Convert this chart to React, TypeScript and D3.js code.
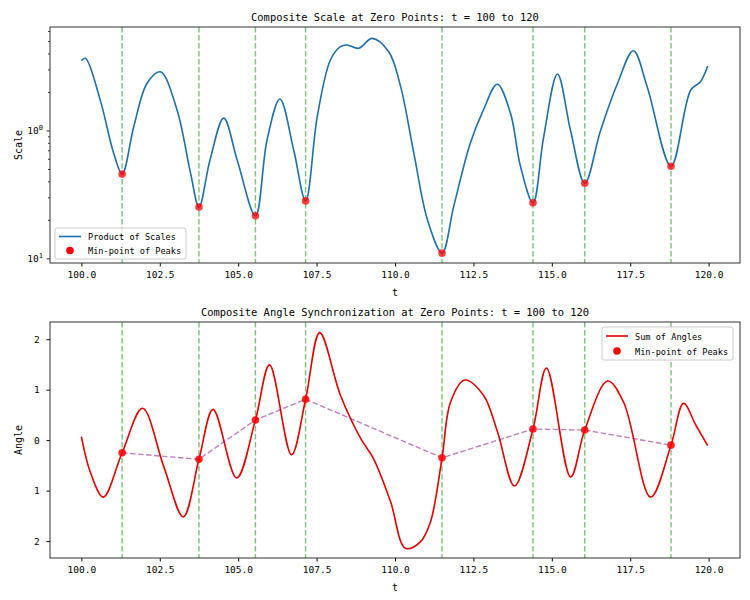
import { useEffect, useRef } from 'react';
import * as d3 from 'd3';

// zero points (t) where the green guide lines are drawn
const zeroPoints = [101.3, 103.75, 105.55, 107.15, 111.5, 114.4, 116.05, 118.8];

// top panel: product of scales (log axis)
const scaleT = [100.0, 100.13, 100.6, 101.03, 101.3, 101.67, 102.1, 102.52, 103.05, 103.48, 103.75, 104.1, 104.54, 104.97, 105.55, 105.92, 106.33, 106.77, 107.15, 107.52, 107.94, 108.26, 108.47, 108.84, 109.27, 109.8, 110.18, 110.6, 111.04, 111.5, 111.87, 112.4, 112.82, 113.26, 113.68, 114.0, 114.4, 114.74, 115.18, 115.6, 116.05, 116.55, 117.1, 117.6, 118.04, 118.8, 119.43, 119.74, 119.97];
const scaleV = [3.55, 3.7, 1.75, 0.67, 0.46, 1.08, 2.37, 2.9, 1.46, 0.47, 0.254, 0.59, 1.26, 0.59, 0.217, 0.85, 1.78, 0.71, 0.284, 1.29, 3.59, 4.56, 4.7, 4.43, 5.3, 4.16, 2.22, 0.67, 0.2, 0.111, 0.256, 0.8, 1.46, 2.32, 1.38, 0.53, 0.274, 0.9, 2.79, 1.0, 0.39, 1.0, 2.37, 4.24, 2.22, 0.53, 2.09, 2.43, 3.22];
const scaleMins = [0.46, 0.254, 0.217, 0.284, 0.111, 0.274, 0.39, 0.53];

// bottom panel: sum of angles
const angleT = [100.0, 100.3, 100.7, 101.3, 101.95, 102.63, 103.25, 103.75, 104.2, 104.95, 105.55, 106.0, 106.7, 107.15, 107.6, 108.26, 108.9, 109.31, 109.86, 110.33, 110.8, 111.13, 111.5, 111.77, 112.22, 112.82, 113.27, 113.81, 114.4, 114.83, 115.6, 116.05, 116.78, 117.29, 118.15, 118.8, 119.2, 119.59, 119.97];
const angleV = [0.07, -0.66, -1.13, -0.25, 0.63, -0.53, -1.52, -0.38, 0.61, -0.75, 0.4, 1.49, -0.29, 0.81, 2.13, 0.89, 0.04, -0.36, -1.22, -2.14, -2.02, -1.62, -0.35, 0.75, 1.19, 0.89, 0.16, -0.91, 0.22, 1.43, -0.73, 0.2, 1.17, 0.75, -1.13, -0.1, 0.73, 0.3, -0.11];
const angleMins = [-0.25, -0.38, 0.4, 0.81, -0.35, 0.22, 0.2, -0.1];

const xTicks = [100, 102.5, 105, 107.5, 110, 112.5, 115, 117.5, 120];
const angleTicks = [2, 1, 0, -1, -2];

const FONT = '"DejaVu Sans Mono", monospace';

export default function App() {
  const svgRef = useRef<SVGSVGElement>(null);

  useEffect(() => {
    if (!svgRef.current) return;
    const svg = d3.select(svgRef.current);
    svg.selectAll('*').remove();

    const left = 50, right = 740;
    const x = d3.scaleLinear().domain([99.0, 121.0]).range([left, right]);

    const panel = (top: number, bottom: number, title: string, ylabel: string) => {
      const g = svg.append('g');
      g.append('text').attr('x', (left + right) / 2).attr('y', top - 6)
        .attr('text-anchor', 'middle').style('font-size', '10.4px').text(title);
      // x axis
      const ax = g.append('g').attr('transform', `translate(0,${bottom})`)
        .call(d3.axisBottom(x).tickValues(xTicks).tickSize(3.5).tickFormat(d => (+d).toFixed(1)));
      ax.select('.domain').remove();
      ax.selectAll('text').style('font-family', FONT).style('font-size', '9.5px').attr('dy', '0.9em');
      g.append('text').attr('x', (left + right) / 2).attr('y', bottom + 33)
        .attr('text-anchor', 'middle').style('font-size', '10px').text('t');
      g.append('text').attr('transform', `translate(${left - 28},${(top + bottom) / 2}) rotate(-90)`)
        .attr('text-anchor', 'middle').style('font-size', '10px').text(ylabel);
      return g;
    };

    const frame = (g: any, top: number, bottom: number) => {
      g.append('rect').attr('x', left).attr('y', top).attr('width', right - left).attr('height', bottom - top)
        .attr('fill', 'none').attr('stroke', '#333').attr('stroke-width', 1);
    };

    const guides = (g: any, top: number, bottom: number) => {
      g.selectAll('.zp').data(zeroPoints).join('line')
        .attr('x1', (d: number) => x(d)).attr('x2', (d: number) => x(d))
        .attr('y1', top).attr('y2', bottom)
        .attr('stroke', 'green').attr('stroke-opacity', 0.5).attr('stroke-width', 1.4)
        .attr('stroke-dasharray', '5.5,2.5');
    };

    // ---------- top panel ----------
    const t1 = 27, b1 = 263;
    const g1 = panel(t1, b1, 'Composite Scale at Zero Points: t = 100 to 120', 'Scale');
    const y1 = d3.scaleLog().domain([0.0928, 6.5]).range([b1, t1]);

    const yax = g1.append('g').attr('transform', `translate(${left},0)`);
    const minors = [0.2, 0.3, 0.4, 0.5, 0.6, 0.7, 0.8, 0.9, 2, 3, 4, 5, 6];
    yax.selectAll('.mn').data(minors).join('line')
      .attr('x1', -2).attr('x2', 0).attr('y1', d => y1(d)).attr('y2', d => y1(d)).attr('stroke', '#333');
    yax.selectAll('.mj').data([1, 0.1]).join('line')
      .attr('x1', -3.5).attr('x2', 0).attr('y1', d => y1(d)).attr('y2', d => y1(d)).attr('stroke', '#333');
    yax.selectAll('.lb').data([{ v: 1, e: '0' }, { v: 0.1, e: '1' }]).join('text')
      .attr('x', -7).attr('y', d => y1(d.v) + 3.5).attr('text-anchor', 'end').style('font-size', '9.5px')
      .each(function (d) {
        const t = d3.select(this);
        t.append('tspan').text('10');
        t.append('tspan').attr('dy', -4).style('font-size', '7px').text(d.e);
      });

    guides(g1, t1, b1);
    const pts1 = scaleT.map((t, i) => [t, scaleV[i]] as [number, number]);
    g1.append('path').datum(pts1)
      .attr('d', d3.line<[number, number]>().x(d => x(d[0])).y(d => y1(d[1])).curve(d3.curveCatmullRom.alpha(0.5)))
      .attr('fill', 'none').attr('stroke', '#1f6fa8').attr('stroke-width', 1.6);
    g1.selectAll('.dot').data(zeroPoints).join('circle')
      .attr('cx', d => x(d)).attr('cy', (d, i) => y1(scaleMins[i])).attr('r', 3.8)
      .attr('fill', 'red').attr('fill-opacity', 0.75);
    frame(g1, t1, b1);

    // legend (lower left)
    const l1 = g1.append('g').attr('transform', 'translate(55,228)');
    l1.append('rect').attr('width', 131).attr('height', 31).attr('rx', 2).attr('fill', 'white')
      .attr('fill-opacity', 0.8).attr('stroke', '#ccc');
    l1.append('line').attr('x1', 4).attr('x2', 26).attr('y1', 8.5).attr('y2', 8.5).attr('stroke', '#1f6fa8').attr('stroke-width', 1.6);
    l1.append('text').attr('x', 33).attr('y', 12).style('font-size', '8.6px').text('Product of Scales');
    l1.append('circle').attr('cx', 15).attr('cy', 22.5).attr('r', 3.8).attr('fill', 'red');
    l1.append('text').attr('x', 33).attr('y', 26).style('font-size', '8.6px').text('Min-point of Peaks');

    // ---------- bottom panel ----------
    const t2 = 322, b2 = 558;
    const g2 = panel(t2, b2, 'Composite Angle Synchronization at Zero Points: t = 100 to 120', 'Angle');
    const y2 = d3.scaleLinear().domain([-2.335, 2.34]).range([b2, t2]);
    const yax2 = g2.append('g').attr('transform', `translate(${left},0)`)
      .call(d3.axisLeft(y2).tickValues(angleTicks).tickSize(3.5).tickFormat(d => String(Math.abs(+d))));
    yax2.select('.domain').remove();
    yax2.selectAll('text').style('font-family', FONT).style('font-size', '9.5px').attr('dx', '-0.4em');

    guides(g2, t2, b2);
    const pts2 = angleT.map((t, i) => [t, angleV[i]] as [number, number]);
    g2.append('path').datum(pts2)
      .attr('d', d3.line<[number, number]>().x(d => x(d[0])).y(d => y2(d[1])).curve(d3.curveCatmullRom.alpha(0.5)))
      .attr('fill', 'none').attr('stroke', '#e00000').attr('stroke-width', 1.6);
    const mins2 = zeroPoints.map((t, i) => [t, angleMins[i]] as [number, number]);
    g2.append('path').datum(mins2)
      .attr('d', d3.line<[number, number]>().x(d => x(d[0])).y(d => y2(d[1])))
      .attr('fill', 'none').attr('stroke', 'purple').attr('stroke-opacity', 0.5).attr('stroke-width', 1.4)
      .attr('stroke-dasharray', '5.5,2.5');
    g2.selectAll('.dot').data(mins2).join('circle')
      .attr('cx', d => x(d[0])).attr('cy', d => y2(d[1])).attr('r', 3.8)
      .attr('fill', 'red').attr('fill-opacity', 0.85);
    frame(g2, t2, b2);

    const l2 = g2.append('g').attr('transform', 'translate(602,327)');
    l2.append('rect').attr('width', 131).attr('height', 33).attr('rx', 2).attr('fill', 'white')
      .attr('fill-opacity', 0.8).attr('stroke', '#ccc');
    l2.append('line').attr('x1', 4).attr('x2', 26).attr('y1', 9).attr('y2', 9).attr('stroke', '#e00000').attr('stroke-width', 1.6);
    l2.append('text').attr('x', 33).attr('y', 12.5).style('font-size', '8.6px').text('Sum of Angles');
    l2.append('circle').attr('cx', 15).attr('cy', 24).attr('r', 3.8).attr('fill', 'red');
    l2.append('text').attr('x', 33).attr('y', 27.5).style('font-size', '8.6px').text('Min-point of Peaks');
  }, []);

  return (
    <svg ref={svgRef} width={750} height={600}
      style={{ position: 'absolute', left: 0, top: 0, background: 'white', fontFamily: FONT }} />
  );
}
